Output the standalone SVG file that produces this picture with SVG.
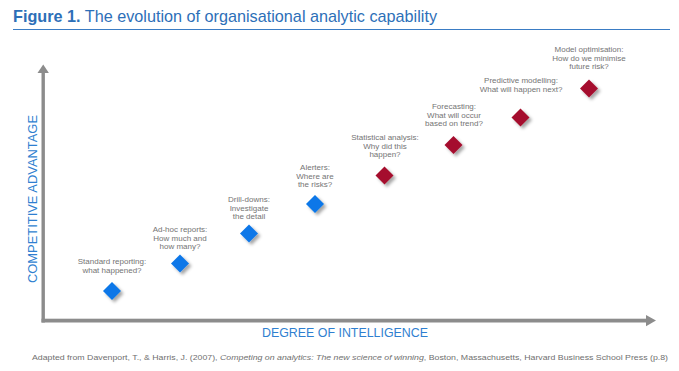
<svg xmlns="http://www.w3.org/2000/svg" width="679" height="371" viewBox="0 0 679 371">
<style>
.lbl{font-family:"Liberation Sans",Arial,sans-serif;font-size:8px;fill:#747474;text-anchor:middle}
.ax{font-family:"Liberation Sans",Arial,sans-serif;fill:#2f7fd0}
.blue{fill:#0877e8}
.red{fill:#a50f2e}
</style>
<defs>
<filter id="sh" x="-50%" y="-50%" width="220%" height="220%">
<feDropShadow dx="2.5" dy="2.5" stdDeviation="1.8" flood-color="#000" flood-opacity="0.35"/>
</filter>
<path id="dia" d="M0,-9 L9,0 L0,9 L-9,0 Z"/>
</defs>
<rect width="679" height="371" fill="#fff"/>
<g id="title">
<text x="13" y="22" font-family="'Liberation Sans',Arial,sans-serif" font-size="17" fill="#2d6fb8" textLength="424" lengthAdjust="spacingAndGlyphs"><tspan font-weight="bold">Figure 1.</tspan> The evolution of organisational analytic capability</text>
<line x1="13" y1="29.5" x2="670" y2="29.5" stroke="#3a7cc4" stroke-width="1.2"/>
</g>
<g id="axes" fill="#8c8c8c">
<rect x="41.5" y="72" width="3.4" height="250.5"/>
<rect x="41.5" y="318.7" width="606" height="3.8"/>
<path d="M37.5,73 L43.2,64.5 L48.9,73 Z"/>
<path d="M646,315 L656,320.6 L646,326.2 Z"/>
</g>
<text class="ax" transform="translate(36.5,199) rotate(-90)" text-anchor="middle" font-size="12.5" textLength="168" lengthAdjust="spacingAndGlyphs">COMPETITIVE ADVANTAGE</text>
<text class="ax" x="345" y="337" text-anchor="middle" font-size="13" textLength="166" lengthAdjust="spacingAndGlyphs">DEGREE OF INTELLIGENCE</text>
<g id="n1"><use href="#dia" class="blue" filter="url(#sh)" x="112" y="291"/>
<text class="lbl" x="112" y="264">Standard reporting:<tspan x="112" dy="8.8">what happened?</tspan></text></g>
<g id="n2"><use href="#dia" class="blue" filter="url(#sh)" x="180" y="263.5"/>
<text class="lbl" x="180" y="232">Ad-hoc reports:<tspan x="180" dy="8.5">How much and</tspan><tspan x="180" dy="8.5">how many?</tspan></text></g>
<g id="n3"><use href="#dia" class="blue" filter="url(#sh)" x="249" y="233.5"/>
<text class="lbl" x="249" y="202">Drill-downs:<tspan x="249" dy="8.5">Investigate</tspan><tspan x="249" dy="8.5">the detail</tspan></text></g>
<g id="n4"><use href="#dia" class="blue" filter="url(#sh)" x="315" y="204"/>
<text class="lbl" x="315" y="170">Alerters:<tspan x="315" dy="8.5">Where are</tspan><tspan x="315" dy="8.5">the risks?</tspan></text></g>
<g id="n5"><use href="#dia" class="red" filter="url(#sh)" x="384.5" y="175.5"/>
<text class="lbl" x="385" y="140">Statistical analysis:<tspan x="385" dy="8.5">Why did this</tspan><tspan x="385" dy="8.5">happen?</tspan></text></g>
<g id="n6"><use href="#dia" class="red" filter="url(#sh)" x="453.5" y="145"/>
<text class="lbl" x="454" y="109">Forecasting:<tspan x="454" dy="8.5">What will occur</tspan><tspan x="454" dy="8.5">based on trend?</tspan></text></g>
<g id="n7"><use href="#dia" class="red" filter="url(#sh)" x="520.5" y="117.5"/>
<text class="lbl" x="521" y="83">Predictive modelling:<tspan x="521" dy="8.8">What will happen next?</tspan></text></g>
<g id="n8"><use href="#dia" class="red" filter="url(#sh)" x="589" y="88.5"/>
<text class="lbl" x="589" y="52">Model optimisation:<tspan x="589" dy="8.5">How do we minimise</tspan><tspan x="589" dy="8.5">future risk?</tspan></text></g>
<g id="connectors"></g>
<text x="32" y="359.5" font-family="'Liberation Sans',Arial,sans-serif" font-size="7" fill="#6f6f6f" textLength="636" lengthAdjust="spacingAndGlyphs">Adapted from Davenport, T., &amp; Harris, J. (2007), <tspan font-style="italic">Competing on analytics: The new science of winning</tspan>, Boston, Massachusetts, Harvard Business School Press (p.8)</text>
</svg>
